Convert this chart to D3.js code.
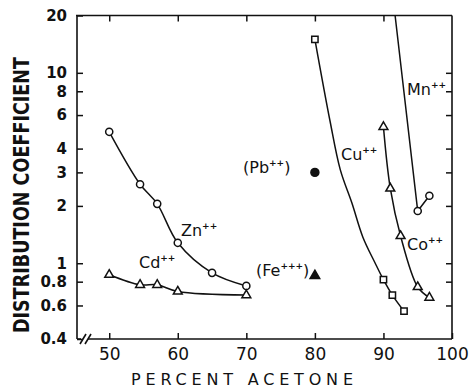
<!DOCTYPE html>
<html>
<head>
<meta charset="utf-8">
<script src="https://cdn.jsdelivr.net/npm/d3@7"></script>
<style>
  html, body { margin: 0; padding: 0; background: #fff; }
  svg { display: block; }
</style>
</head>
<body>
<div id="chart"></div>
<script>
// Distribution coefficients of metal ions versus percent acetone
const yTicks = [20, 10, 8, 6, 4, 3, 2, 1, 0.8, 0.6, 0.4];
const xTicks = [50, 60, 70, 80, 90, 100];

const znX = [50, 54.5, 57, 60, 65, 70];
const znY = [4.9, 2.6, 2.05, 1.28, 0.89, 0.76];

const cdX = [50, 54.5, 57, 60, 70];
const cdY = [0.87, 0.77, 0.77, 0.71, 0.68];

const cuX = [80, 90, 91.3, 93];
const cuY = [15, 0.82, 0.68, 0.56];
// hand-drawn trend line for Cu(II)
const cuLineX = [80, 82.2, 83.7, 85.4, 87, 88.8, 90, 91.3, 93];
const cuLineY = [15, 5.6, 3.1, 2.07, 1.37, 1.0, 0.82, 0.68, 0.56];

const coX = [90, 91, 92.5, 95, 96.7];
const coY = [5.2, 2.47, 1.39, 0.75, 0.66];

const mnX = [95, 96.7];
const mnY = [1.88, 2.26];
const mnLineX = [91.7, 95, 96.7];
const mnLineY = [20, 1.88, 2.26];

const pbX = [80], pbY = [3.0];
const feX = [80], feY = [0.86];

const W = 469, H = 390;
const svg = d3.select("#chart").append("svg").attr("width", W).attr("height", H);

const x = d3.scaleLinear().domain([45.3, 100]).range([77, 452]);
const y = d3.scaleLog().domain([0.4, 20]).range([339, 15.5]);

const ink = "#111";
const tickFont = "'DejaVu Sans', sans-serif";

// frame with axis break at lower left
const frame = svg.append("g").attr("stroke", ink).attr("stroke-width", 1.6).attr("fill", "none");
frame.append("line").attr("x1", 77).attr("y1", y(20)).attr("x2", 77).attr("y2", y(0.4));
frame.append("line").attr("x1", 76).attr("y1", y(20)).attr("x2", 452).attr("y2", y(20));
frame.append("line").attr("x1", 452).attr("y1", y(20)).attr("x2", 452).attr("y2", y(0.4));
frame.append("line").attr("x1", 77).attr("y1", y(0.4)).attr("x2", 81).attr("y2", y(0.4));
frame.append("line").attr("x1", 88).attr("y1", y(0.4)).attr("x2", 452).attr("y2", y(0.4));
frame.append("line").attr("x1", 80).attr("y1", y(0.4) + 5).attr("x2", 86).attr("y2", y(0.4) - 5);
frame.append("line").attr("x1", 85).attr("y1", y(0.4) + 5).attr("x2", 91).attr("y2", y(0.4) - 5);

function styleAxis(g) {
  g.select(".domain").remove();
  g.selectAll(".tick line").attr("stroke", ink).attr("stroke-width", 1.5);
}

// left axis: inward ticks with bold labels
svg.append("g").attr("transform", "translate(77,0)")
  .call(d3.axisLeft(y).tickValues(yTicks).tickSizeInner(-6).tickSizeOuter(0).tickPadding(10)
    .tickFormat(d => d < 1 ? d.toFixed(1) : String(d)))
  .call(styleAxis)
  .call(g => g.selectAll(".tick text").attr("fill", ink)
    .attr("font-family", tickFont).attr("font-weight", "bold").attr("font-size", 15));

// right axis: inward ticks only
svg.append("g").attr("transform", "translate(452,0)")
  .call(d3.axisRight(y).tickValues(yTicks.slice(1, -1)).tickSizeInner(-6).tickSizeOuter(0).tickFormat(""))
  .call(styleAxis);

// bottom axis
svg.append("g").attr("transform", `translate(0,${y(0.4)})`)
  .call(d3.axisBottom(x).tickValues(xTicks).tickSizeInner(-6).tickSizeOuter(0).tickPadding(9))
  .call(styleAxis)
  .call(g => g.selectAll(".tick text").attr("fill", ink)
    .attr("font-family", tickFont).attr("font-size", 17));

// top axis: inward ticks only
svg.append("g").attr("transform", `translate(0,${y(20)})`)
  .call(d3.axisTop(x).tickValues(xTicks.slice(0, -1)).tickSizeInner(-6).tickSizeOuter(0).tickFormat(""))
  .call(styleAxis);

// axis titles
svg.append("text")
  .attr("transform", "translate(29,195) rotate(-90)")
  .attr("text-anchor", "middle")
  .attr("font-family", "'Liberation Sans Narrow', 'DejaVu Sans Condensed', sans-serif")
  .attr("font-weight", "bold").attr("font-size", 21).attr("fill", ink)
  .attr("textLength", 276).attr("lengthAdjust", "spacingAndGlyphs")
  .text("DISTRIBUTION COEFFICIENT");

svg.append("text")
  .attr("x", 242).attr("y", 385)
  .attr("text-anchor", "middle")
  .attr("font-family", tickFont).attr("font-size", 16).attr("fill", ink)
  .attr("textLength", 222).attr("lengthAdjust", "spacing")
  .text("PERCENT ACETONE");

// curves
const zip = (xs, ys) => xs.map((v, i) => [v, ys[i]]);
const smooth = d3.line().x(d => x(d[0])).y(d => y(d[1])).curve(d3.curveCatmullRom.alpha(0.5));
const straight = d3.line().x(d => x(d[0])).y(d => y(d[1]));

const lines = svg.append("g").attr("fill", "none").attr("stroke", ink).attr("stroke-width", 1.5);
lines.append("path").attr("d", smooth(zip(znX, znY)));
lines.append("path").attr("d", smooth(zip(cdX, cdY)));
lines.append("path").attr("d", smooth(zip(cuLineX, cuLineY)));
lines.append("path").attr("d", smooth(zip(coX, coY)));
lines.append("path").attr("d", straight(zip(mnLineX, mnLineY)));

// markers
function markers(xs, ys, type, size, filled) {
  const sym = d3.symbol().type(type).size(size);
  svg.append("g").selectAll("path").data(zip(xs, ys)).join("path")
    .attr("transform", d => `translate(${x(d[0])},${y(d[1])})`)
    .attr("d", sym)
    .attr("fill", filled ? ink : "#fff")
    .attr("stroke", ink).attr("stroke-width", 1.5);
}
markers(znX, znY, d3.symbolCircle, 40, false);
markers(cdX, cdY, d3.symbolTriangle, 34, false);
markers(cuX, cuY, d3.symbolSquare, 40, false);
markers(coX, coY, d3.symbolTriangle, 34, false);
markers(mnX, mnY, d3.symbolCircle, 40, false);
markers(pbX, pbY, d3.symbolCircle, 50, true);
markers(feX, feY, d3.symbolTriangle, 40, true);

// ion labels
function label(px, py, base, sup, tail) {
  const t = svg.append("text").attr("x", px).attr("y", py)
    .attr("font-family", tickFont).attr("font-size", 16).attr("fill", ink);
  t.append("tspan").text(base);
  t.append("tspan").attr("font-size", 9).attr("font-weight", "bold").attr("dy", -7).text(sup);
  if (tail) t.append("tspan").attr("dy", 7).text(tail);
}
label(181, 236, "Zn", "++");
label(139, 268, "Cd", "++");
label(243, 173, "(Pb", "++", ")");
label(256, 276, "(Fe", "+++", ")");
label(341, 160, "Cu", "++");
label(407, 95, "Mn", "++");
label(407, 250, "Co", "++");
</script>
</body>
</html>
